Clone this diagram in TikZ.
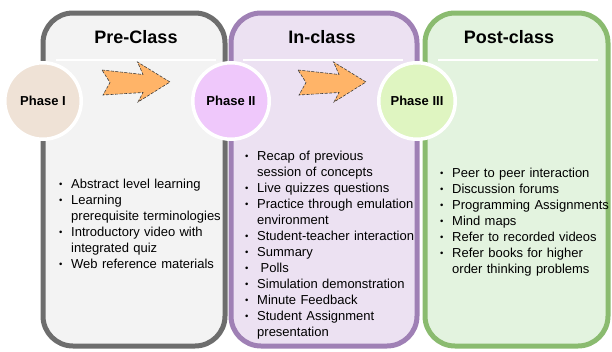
\documentclass[tikz,border=0pt]{standalone}
\usepackage{fontspec}
\setmainfont{Liberation Sans}
\usepackage{tikz}
\usetikzlibrary{shapes,arrows,positioning}
\definecolor{preline}{HTML}{6D6D6D}
\definecolor{prefill}{HTML}{F3F3F3}
\definecolor{inline}{HTML}{9F80B5}
\definecolor{infill}{HTML}{ECE1F2}
\definecolor{postline}{HTML}{8ABB6F}
\definecolor{postfill}{HTML}{E3F3DF}
\definecolor{phaseone}{HTML}{EFE2D6}
\definecolor{phasetwo}{HTML}{EFC8FB}
\definecolor{phasethree}{HTML}{DFF5C1}
\definecolor{arrowfill}{HTML}{FFB468}
\newcommand{\phitem}[1]{\hangindent=12pt\hangafter=1\makebox[12pt][l]{\raisebox{0.8pt}{\fontsize{9.5}{9.5}\selectfont\textbullet}}#1\par}
\newcommand{\nl}{\hfil\break}
\tikzstyle{panel} = [rectangle, draw, rounded corners = 30pt, line width = 5pt]
\tikzstyle{phase} = [circle, draw = white, line width = 3.5pt, minimum size = 76.5pt, inner sep = 0pt, font = \fontsize{13}{15}\selectfont\bfseries]
\tikzstyle{heading} = [anchor = base, inner sep = 0pt, font = \fontsize{18}{20}\selectfont\bfseries]
\tikzstyle{items} = [anchor = base west, text width = 190pt, align = left, inner sep = 0pt, font = \fontsize{13}{16}\selectfont]
\tikzstyle{headrule} = [draw = white, line width = 1.5pt]
\tikzstyle{chevron} = [draw = black!75, fill = arrowfill, dash pattern = on 3pt off 1.5pt, line width = 0.6pt]
\begin{document}
\begin{tikzpicture}[x = 1pt, y = -1pt]
			\useasboundingbox (0, 0) rectangle (612, 351);
			% Place panels
			\node [panel, draw = preline, fill = prefill, minimum width = 182pt, minimum height = 333pt] (pre) at (134, 179.5) {};
			\node [panel, draw = inline, fill = infill, minimum width = 186pt, minimum height = 333pt] (in) at (324, 179.5) {};
			\node [panel, draw = postline, fill = postfill, minimum width = 183pt, minimum height = 333pt] (post) at (516.5, 179.5) {};
			% Headings
			\foreach \a/\b in {56/216, 243/403, 438/598}
				\path [headrule] (\a, 60) -- (\b, 60);
			\node [heading] (pretitle) at (136, 43) {Pre-Class};
			\node [heading] (intitle) at (322, 43) {In-class};
			\node [heading] (posttitle) at (509, 43) {Post-class};
			% Phases
			\node [phase, fill = phaseone] (ph1) at (43, 101) {Phase I};
			\node [phase, fill = phasetwo] (ph2) at (231, 101) {Phase II};
			\node [phase, fill = phasethree] (ph3) at (417, 101) {Phase III};
			% Arrows
			\foreach \dx in {0, 196}
				\path [chevron, shift = {(\dx, 0)}] (102, 70) -- (143, 74.5) -- (137.5, 62) -- (170, 82) -- (138, 102) -- (143, 92.5) -- (103, 95) -- (110, 82.5) -- cycle;
			% Lists
			\node [items] (prelist) at (59, 188) {%
				\phitem{Abstract level learning}
				\phitem{Learning\nl prerequisite terminologies}
				\phitem{Introductory video with\nl integrated quiz}
				\phitem{Web reference materials}};
			\node [items] (inlist) at (245, 160.5) {%
				\phitem{Recap of previous\nl session of concepts}
				\phitem{Live quizzes questions}
				\phitem{Practice through emulation\nl environment}
				\phitem{Student-teacher interaction}
				\phitem{Summary}
				\phitem{\hspace{3.5pt}Polls}
				\phitem{Simulation demonstration}
				\phitem{Minute Feedback}
				\phitem{Student Assignment\nl presentation}};
			\node [items] (postlist) at (440, 177) {%
				\phitem{Peer to peer interaction}
				\phitem{Discussion forums}
				\phitem{Programming Assignments}
				\phitem{Mind maps}
				\phitem{Refer to recorded videos}
				\phitem{Refer books for higher\nl order thinking problems}};
		\end{tikzpicture}
\end{document}
